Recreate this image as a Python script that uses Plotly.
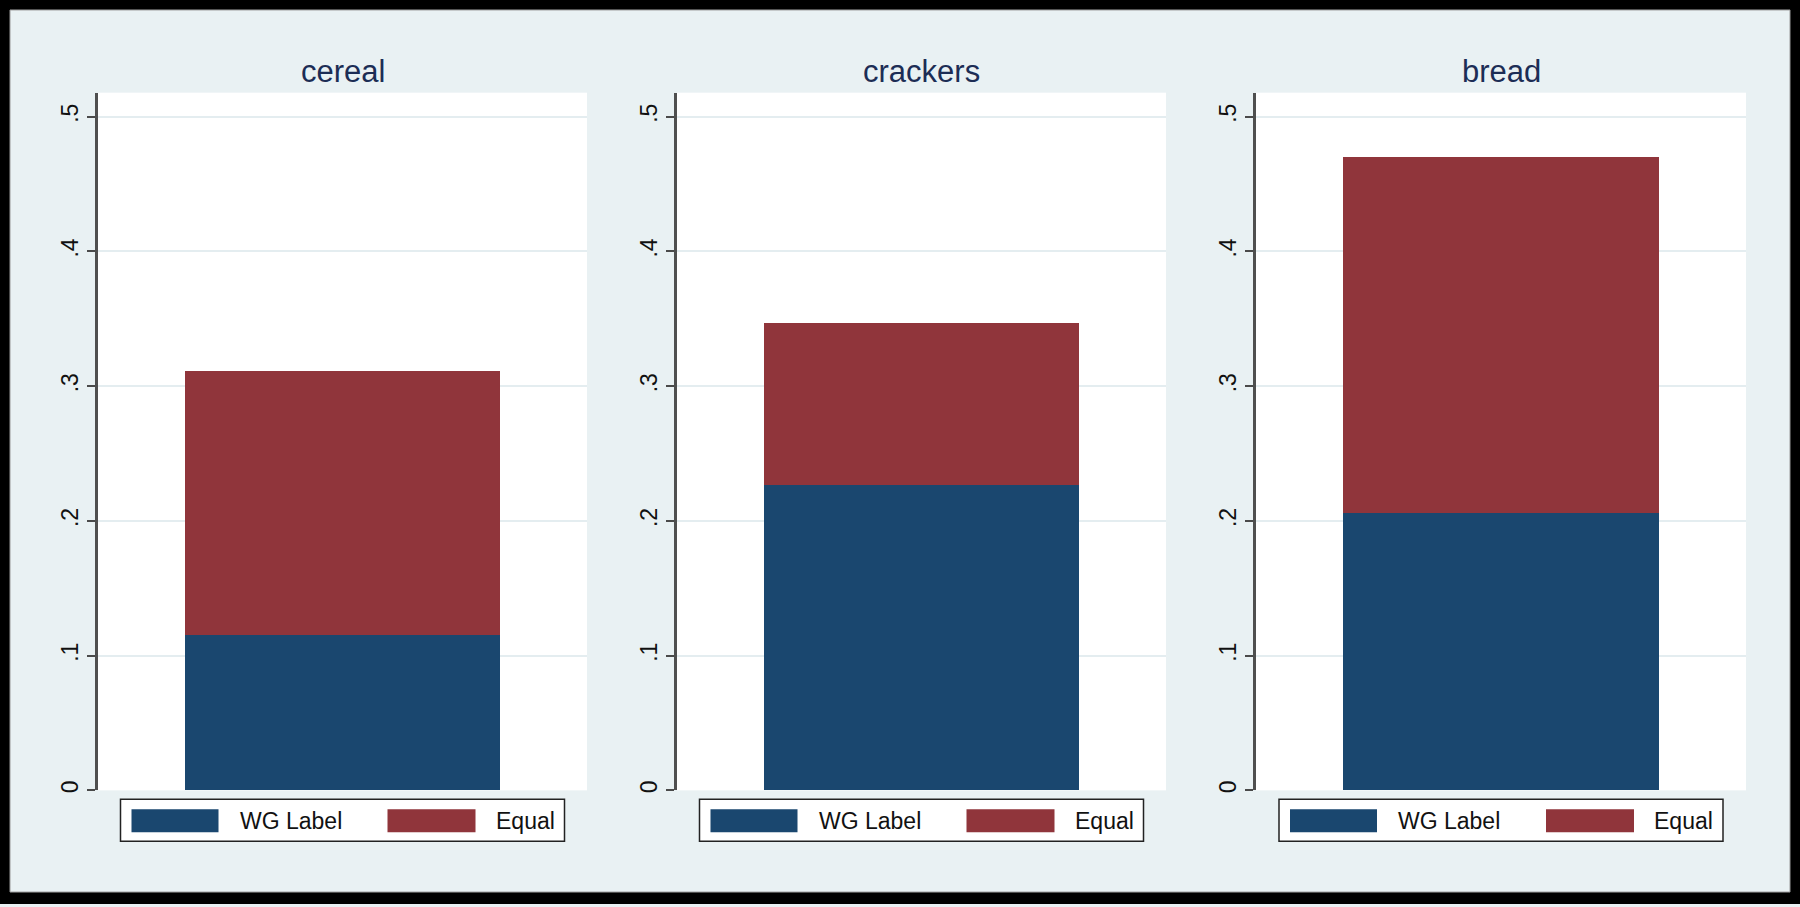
"""Stacked share bars by product (WG Label vs Equal), three small panels."""

import plotly.graph_objects as go

W, H = 1800, 907

categories = ["cereal", "crackers", "bread"]
wg_label = [0.115, 0.227, 0.206]
equal = [0.196, 0.120, 0.264]
series_names = ["WG Label", "Equal"]
tick_vals = [0, 0.1, 0.2, 0.3, 0.4, 0.5]
tick_text = ["0", ".1", ".2", ".3", ".4", ".5"]

NAVY = "#1a476f"
MAROON = "#90353b"
BG = "#e9f1f3"
FONT = "Liberation Sans, Arial, sans-serif"

# plot-area pixel extents of each panel (left, right); shared top/bottom
PANEL_X = [(98, 587), (677, 1166), (1256, 1746)]
PLOT_TOP, PLOT_BOTTOM = 93, 793


def px(x):
    return x / W


def py(y):
    return 1 - y / H


fig = go.Figure()
shapes = []
annotations = []

for i, cat in enumerate(categories):
    n = "" if i == 0 else str(i + 1)
    x0, x1 = PANEL_X[i]
    for vals, name, color in ((wg_label, series_names[0], NAVY),
                              (equal, series_names[1], MAROON)):
        fig.add_trace(
            go.Bar(
                x=[cat],
                y=[vals[i]],
                name=name,
                width=0.644,
                marker=dict(color=color, line=dict(width=0)),
                showlegend=False,
                xaxis="x" + n,
                yaxis="y" + n,
            )
        )
    fig.layout["xaxis" + n] = dict(
        domain=[px(x0), px(x1)],
        range=[-0.5, 0.5],
        showticklabels=False,
        showline=False,
        showgrid=False,
        zeroline=False,
        ticks="",
        anchor="y" + n,
    )
    fig.layout["yaxis" + n] = dict(
        domain=[py(PLOT_BOTTOM), py(PLOT_TOP)],
        range=[0, 0.5178],
        tickvals=tick_vals,
        ticktext=tick_text,
        tickangle=-90,
        ticks="outside",
        ticklen=8,
        tickwidth=2,
        tickcolor="#4a4a4a",
        tickfont=dict(family=FONT, size=23, color="#111111"),
        showline=True,
        linecolor="#4f4f4f",
        linewidth=2.5,
        gridcolor="#e4edf0",
        gridwidth=1.5,
        zeroline=False,
        anchor="x" + n,
    )

    cx = (x0 + x1) / 2
    # panel title
    annotations.append(dict(
        text=cat, x=px(cx), y=py(72), xref="paper", yref="paper",
        xanchor="center", yanchor="middle", showarrow=False,
        font=dict(family=FONT, size=31, color="#1c2d55"),
    ))

    # legend box under each panel
    lx = cx - 222
    shapes.append(dict(
        type="rect", xref="paper", yref="paper",
        x0=px(lx), x1=px(lx + 444), y0=py(844), y1=py(802),
        fillcolor="white", line=dict(color="#222222", width=1.5),
    ))
    for (s0, s1, t0), name, color in (((11, 98, 117), series_names[0], NAVY),
                                      ((267, 355, 373), series_names[1], MAROON)):
        shapes.append(dict(
            type="rect", xref="paper", yref="paper",
            x0=px(lx + s0), x1=px(lx + s1), y0=py(835), y1=py(812),
            fillcolor=color, line=dict(width=0),
        ))
        annotations.append(dict(
            text=name, x=px(lx + t0), y=py(824), xref="paper", yref="paper",
            xanchor="left", yanchor="middle", showarrow=False,
            font=dict(family=FONT, size=23, color="#111111"),
        ))

# black frame around the whole graph
for fx0, fx1, fy0, fy1 in ((0, W, 0, 10), (0, W, 895, H), (0, 10, 0, H), (1790, W, 0, H)):
    shapes.append(dict(
        type="rect", xref="paper", yref="paper",
        x0=px(fx0), x1=px(fx1), y0=py(fy1), y1=py(fy0),
        fillcolor="black", line=dict(width=0), layer="above",
    ))
shapes.append(dict(
    type="rect", xref="paper", yref="paper",
    x0=px(10), x1=px(1790), y0=py(895), y1=py(10),
    line=dict(color="#9a9a9a", width=1),
))

fig.update_layout(
    width=W,
    height=H,
    margin=dict(l=0, r=0, t=0, b=0),
    barmode="stack",
    paper_bgcolor=BG,
    plot_bgcolor="white",
    showlegend=False,
    shapes=shapes,
    annotations=annotations,
    font=dict(family=FONT),
)

# drop the browser's default body margin so the figure fills the window
fig.write_html(
    "out.html",
    config={"displayModeBar": False},
    post_script="document.body.style.margin='0';",
)
